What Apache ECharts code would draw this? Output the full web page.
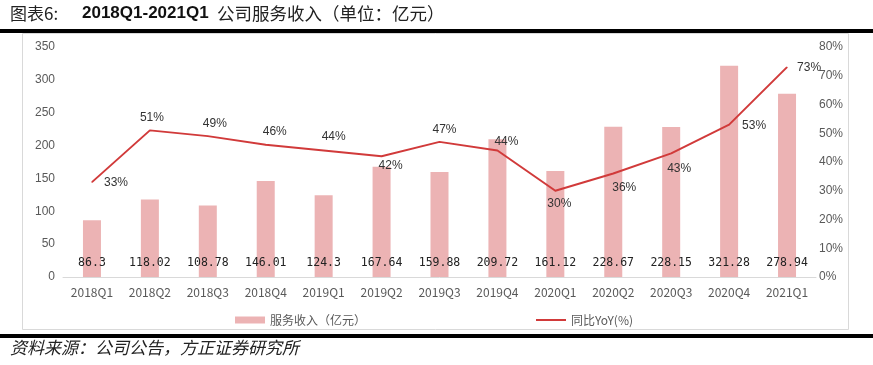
<!DOCTYPE html>
<html>
<head>
<meta charset="utf-8">
<script src="https://cdn.jsdelivr.net/npm/echarts@6/dist/echarts.min.js"></script>
<style>
html,body{margin:0;padding:0;background:#fff;}
#c{width:873px;height:365px;}
</style>
</head>
<body>
<div id="c"></div>
<script>
var categories = ['2018Q1','2018Q2','2018Q3','2018Q4','2019Q1','2019Q2','2019Q3','2019Q4','2020Q1','2020Q2','2020Q3','2020Q4','2021Q1'];
var revenue = [86.3, 118.02, 108.78, 146.01, 124.3, 167.64, 159.88, 209.72, 161.12, 228.67, 228.15, 321.28, 278.94];
var yoy = [33, 51, 49, 46, 44, 42, 47, 44, 30, 36, 43, 53, 73];
var leftTicks = [0, 50, 100, 150, 200, 250, 300, 350];
var rightTicks = ['0%','10%','20%','30%','40%','50%','60%','70%','80%'];
var barName = '服务收入（亿元）';
var lineName = '同比YoY(%)';
var titleLabel = '图表6:';
var titlePeriod = '2018Q1-2021Q1';
var titleText = '公司服务收入（单位：亿元）';
var sourceText = '资料来源：公司公告，方正证券研究所';

// label placement (style only)
var yoyLabelOffsets = [[24,1],[2,-13],[7,-12],[9,-13],[10,-14],[9,9],[5,-12],[9,-9],[4,13],[11,14],[8,15],[25,1],[22,1]];

var chart = echarts.init(document.getElementById('c'), null, {renderer: 'canvas'});
var font = '"Noto Sans CJK SC", "Liberation Sans", sans-serif';
var option = {
  backgroundColor: '#fff',
  animation: false,
  textStyle: {fontFamily: font},
  graphic: [
    {type: 'text', left: 10, top: 5, style: {text: titleLabel, fontSize: 17, fontFamily: font, fill: '#222'}},
    {type: 'text', left: 82, top: 5, style: {text: titlePeriod, fontSize: 17, fontWeight: 'bold', fontFamily: '"Liberation Sans", sans-serif', fill: '#111'}},
    {type: 'text', left: 217, top: 5, style: {text: titleText, fontSize: 17.5, fontFamily: font, fill: '#222'}},
    {type: 'rect', shape: {x: 0, y: 29, width: 873, height: 4}, style: {fill: '#000'}},
    {type: 'rect', shape: {x: 22.5, y: 33.5, width: 826, height: 296}, style: {fill: 'none', stroke: '#d9d9d9', lineWidth: 1}},
    {type: 'rect', shape: {x: 0, y: 334, width: 873, height: 4}, style: {fill: '#000'}},
    {type: 'text', left: 10, top: 339, style: {text: sourceText, fontSize: 17, fontStyle: 'italic', fontFamily: font, fill: '#222'}}
  ],
  legend: {
    left: 230, top: 309,
    itemWidth: 30, itemHeight: 7, itemGap: 170,
    textStyle: {fontSize: 12, color: '#595959', fontFamily: font},
    data: [{name: barName, icon: 'rect'}, {name: lineName, icon: 'path://M0 0H30V2H0Z'}]
  },
  grid: {left: 63, right: 57, top: 47, bottom: 88},
  xAxis: {
    type: 'category', data: categories,
    axisLine: {lineStyle: {color: '#d9d9d9', width: 1}},
    axisTick: {show: false},
    axisLabel: {color: '#595959', fontSize: 12, margin: 9, fontFamily: font}
  },
  yAxis: [
    {type: 'value', min: leftTicks[0], max: leftTicks[leftTicks.length - 1], interval: 50,
      splitLine: {show: false}, axisLine: {show: false}, axisTick: {show: false},
      axisLabel: {color: '#595959', fontSize: 12, margin: 8, fontFamily: '"Liberation Sans", sans-serif'}},
    {type: 'value', min: 0, max: 80, interval: 10,
      splitLine: {show: false}, axisLine: {show: false}, axisTick: {show: false},
      axisLabel: {color: '#595959', fontSize: 12, margin: 3, fontFamily: '"Liberation Sans", sans-serif',
        formatter: function (v) { return rightTicks[Math.round(v / 10)]; }}}
  ],
  series: [
    {
      name: barName, type: 'bar', data: revenue, barWidth: 18, yAxisIndex: 0,
      itemStyle: {color: '#ecb3b4'},
      label: {show: true, position: 'insideBottom', distance: 8, color: '#222', fontSize: 11.5,
        fontFamily: '"DejaVu Sans Mono", monospace', formatter: function (p) { return String(p.value); }}
    },
    {
      name: lineName, type: 'line', yAxisIndex: 1,
      data: yoy.map(function (v, i) {
        return {value: v, label: {offset: yoyLabelOffsets[i]}};
      }),
      symbol: 'circle', symbolSize: 1, showSymbol: true,
      lineStyle: {color: '#d13a3a', width: 2},
      itemStyle: {color: '#d13a3a'},
      label: {show: true, position: 'inside', color: '#333', fontSize: 12, fontFamily: '"Liberation Sans", sans-serif',
        formatter: function (p) { return p.value + '%'; }}
    }
  ]
};
chart.setOption(option);
</script>
</body>
</html>
